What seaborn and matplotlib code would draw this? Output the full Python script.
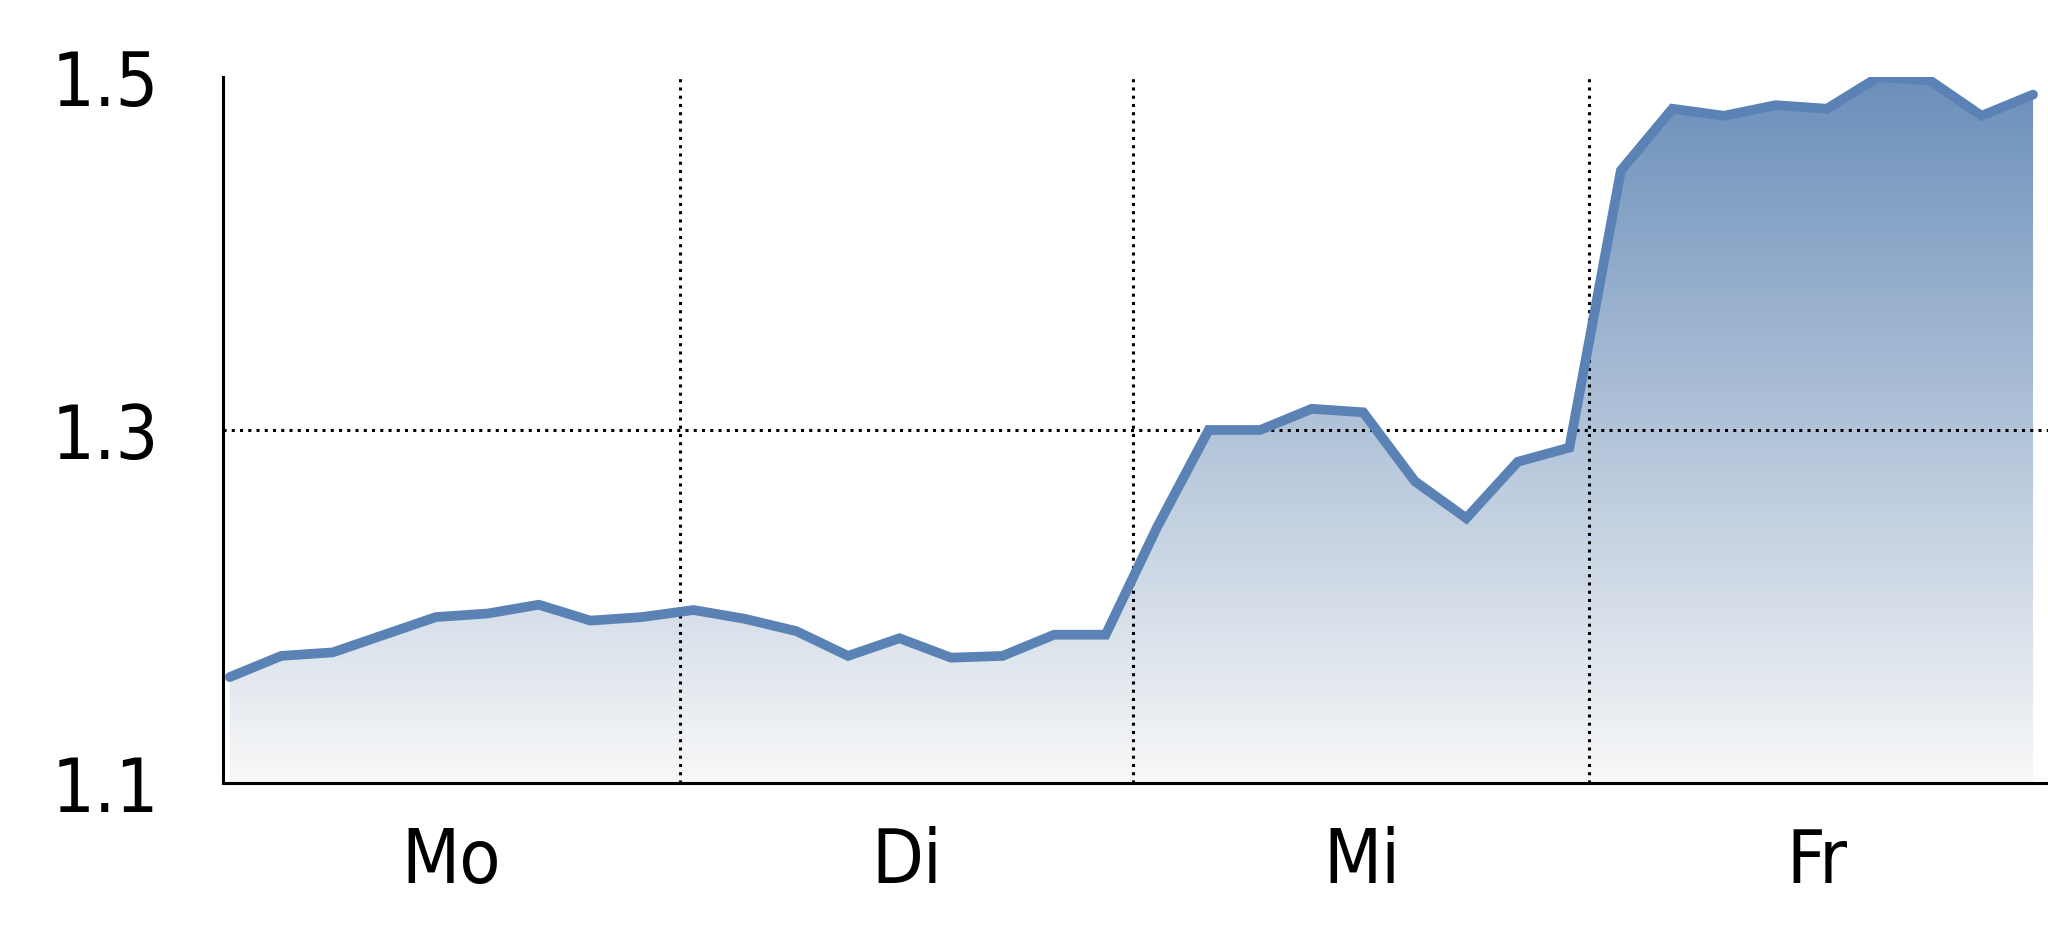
import numpy as np
import pandas as pd
import matplotlib
matplotlib.use("Agg")
import matplotlib.pyplot as plt
from matplotlib import font_manager
from matplotlib.colors import LinearSegmentedColormap
import seaborn as sns

# values, one per time step
values = [1.160, 1.172, 1.174, 1.184, 1.194, 1.196, 1.201, 1.192, 1.194,
          1.198, 1.193, 1.186, 1.172, 1.182, 1.171, 1.172, 1.184, 1.184,
          1.245, 1.300, 1.300, 1.312, 1.310, 1.271, 1.250, 1.282, 1.290,
          1.447, 1.482, 1.478, 1.484, 1.482, 1.500, 1.498, 1.478, 1.490]
day_labels = ["Mo", "Di", "Mi", "Fr"]
# day boundaries in time-step units
day_edges = [-0.13, 8.73, 17.54, 26.39, 35.2]
y_ticks = [1.1, 1.3, 1.5]

df = pd.DataFrame({"step": np.arange(len(values)), "value": values})

sns.set_style("white")

# narrow sans if there is one, else condensed DejaVu
names = {f.name for f in font_manager.fontManager.ttflist}
narrow = [n for n in ["Liberation Sans Narrow", "Arial Narrow"] if n in names]
if narrow:
    plt.rcParams["font.family"] = [narrow[0], "DejaVu Sans"]
else:
    plt.rcParams["font.family"] = ["DejaVu Sans"]
    plt.rcParams["font.stretch"] = "condensed"

fig = plt.figure(figsize=(20.48, 9.37), dpi=100)
ax = fig.add_axes([0.1089, 0.1633, 0.8911, 0.7535])

x0, x1 = day_edges[0], 35.29
y0, y1 = y_ticks[0], y_ticks[-1]

# gradient fill under the line
cmap = LinearSegmentedColormap.from_list("fade", ["#f8f8f8", "#6b8fba"])
grad = np.linspace(0, 1, 256).reshape(-1, 1)
im = ax.imshow(grad, cmap=cmap, origin="lower", aspect="auto",
               extent=[x0, x1, y0, y1], zorder=1)
poly = ax.fill_between(df["step"], df["value"], y0, facecolor="none", edgecolor="none")
im.set_clip_path(poly.get_paths()[0], transform=ax.transData)

sns.lineplot(data=df, x="step", y="value", ax=ax, color="#5a82b5",
             linewidth=7, solid_capstyle="round", solid_joinstyle="miter", zorder=3)

# dotted grid
dots = dict(color="black", linestyle=(0, (1, 1.7)), linewidth=2.2, zorder=2)
for e in day_edges[1:-1]:
    ax.plot([e, e], [y0, y1], **dots)
ax.plot([x0, x1], [1.3, 1.3], **dots)

ax.set_xlim(x0, x1)
ax.set_ylim(y0, y1)
centers = [(a + b) / 2 for a, b in zip(day_edges[:-1], day_edges[1:])]
ax.set_xticks(centers)
ax.set_xticklabels(day_labels)
ax.set_yticks(y_ticks)
ax.set_yticklabels([f"{v:.1f}" for v in y_ticks])
ax.set_xlabel("")
ax.set_ylabel("")
ax.tick_params(axis="both", length=0, labelsize=54, colors="black")
ax.tick_params(axis="y", pad=46)
ax.tick_params(axis="x", pad=30)

sns.despine(ax=ax)
for side in ["left", "bottom"]:
    ax.spines[side].set_color("black")
    ax.spines[side].set_linewidth(2.2)
ax.grid(False)

fig.savefig("out.png", dpi=100)
